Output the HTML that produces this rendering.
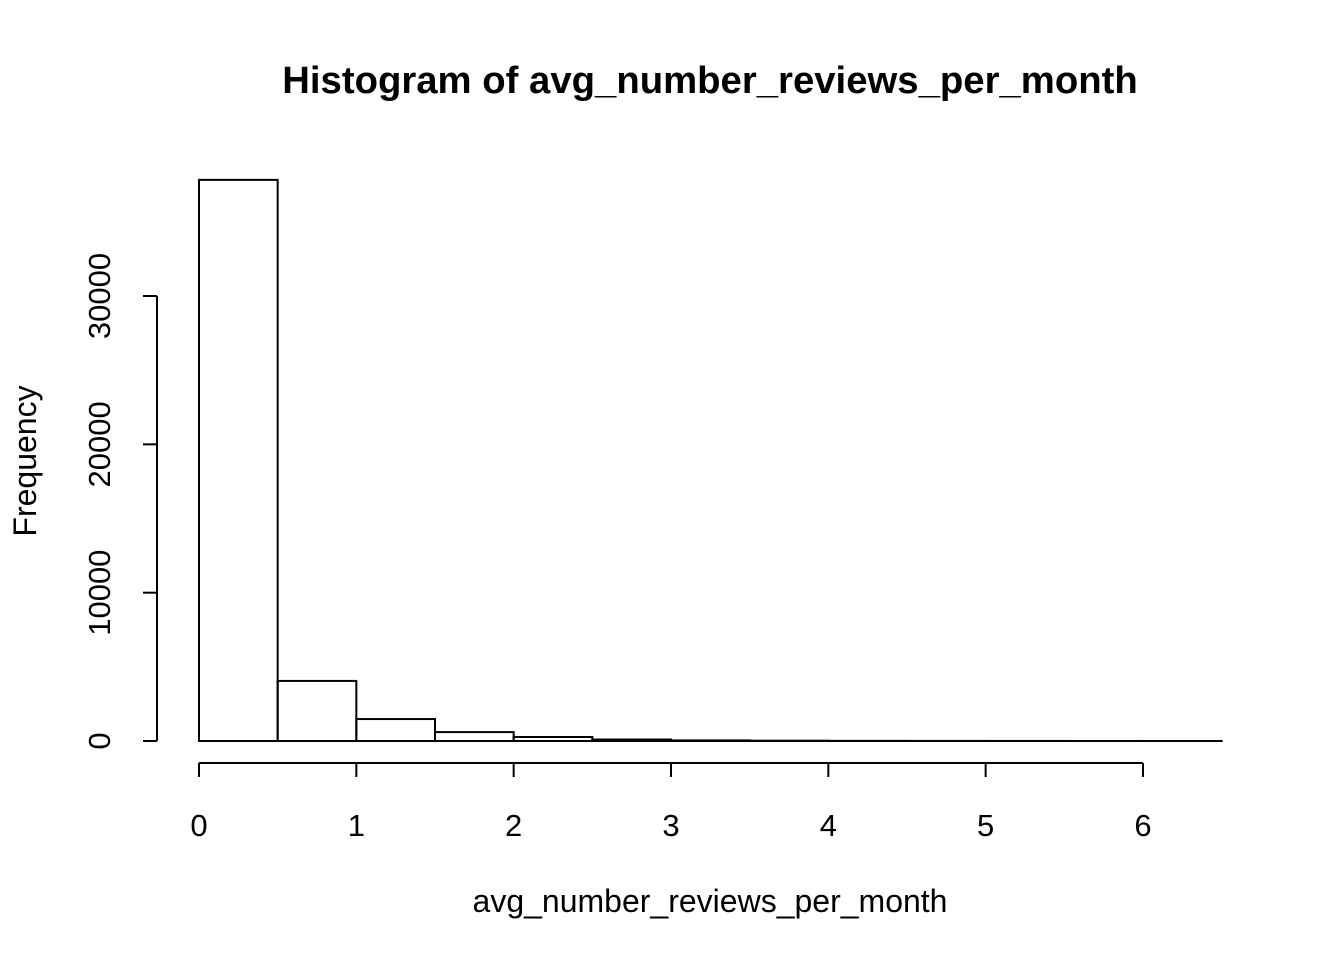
<!DOCTYPE html>
<html><head><meta charset="utf-8"><style>
body{margin:0;background:#fff}
text{font-family:"Liberation Sans",Arial,sans-serif;fill:#000}
</style></head><body>
<svg id="chart" width="1344" height="960" xmlns="http://www.w3.org/2000/svg">
<text x="710" y="93" style="font-size:38.3px;font-weight:bold" text-anchor="middle">Histogram of avg_number_reviews_per_month</text>
<text x="710" y="912" style="font-size:32px" text-anchor="middle">avg_number_reviews_per_month</text>
<text transform="translate(36,461) rotate(-90)" style="font-size:32px" text-anchor="middle">Frequency</text>
<g id="bars"></g><g id="xaxis"></g><g id="yaxis"></g>
</svg>
<script>
const binEdges=[0,0.5,1,1.5,2,2.5,3,3.5,4,4.5,5,5.5,6,6.5];
const counts=[37830,4050,1480,600,270,100,40,20,10,5,3,2,1];
const xTicks=[0,1,2,3,4,5,6];
const yTicks=[0,10000,20000,30000];
const NS="http://www.w3.org/2000/svg";
const xs=v=>199+v*157.33;
const ys=v=>741-v*0.014833;
function mk(t,a,p){const e=document.createElementNS(NS,t);for(const k in a)e.setAttribute(k,a[k]);p.appendChild(e);return e;}
const bars=document.getElementById('bars');
counts.forEach((c,i)=>{
 const r=mk('rect',{x:xs(binEdges[i]),y:ys(c),width:xs(binEdges[i+1])-xs(binEdges[i]),height:741-ys(c),fill:'none',stroke:'#000','stroke-width':2},bars);
 
 
});
const xa=document.getElementById('xaxis');
const xl=mk('line',{x1:xs(xTicks[0]),x2:xs(xTicks[xTicks.length-1]),y1:763,y2:763,stroke:'#000','stroke-width':2},xa);


xTicks.forEach(t=>{
 mk('line',{x1:xs(t),x2:xs(t),y1:763,y2:777,stroke:'#000','stroke-width':2},xa);
 const tx=mk('text',{x:xs(t),y:836,style:'font-size:31px','text-anchor':'middle'},xa);tx.textContent=t;
 
 
});
const ya=document.getElementById('yaxis');
const yl=mk('line',{x1:157,x2:157,y1:ys(yTicks[0]),y2:ys(yTicks[yTicks.length-1]),stroke:'#000','stroke-width':2},ya);


yTicks.forEach(t=>{
 mk('line',{x1:143,x2:157,y1:ys(t),y2:ys(t),stroke:'#000','stroke-width':2},ya);
 const tx=mk('text',{transform:`translate(110,${ys(t)}) rotate(-90)`,style:'font-size:31px','text-anchor':'middle'},ya);tx.textContent=t;
 
 
});
</script>
</body></html>
